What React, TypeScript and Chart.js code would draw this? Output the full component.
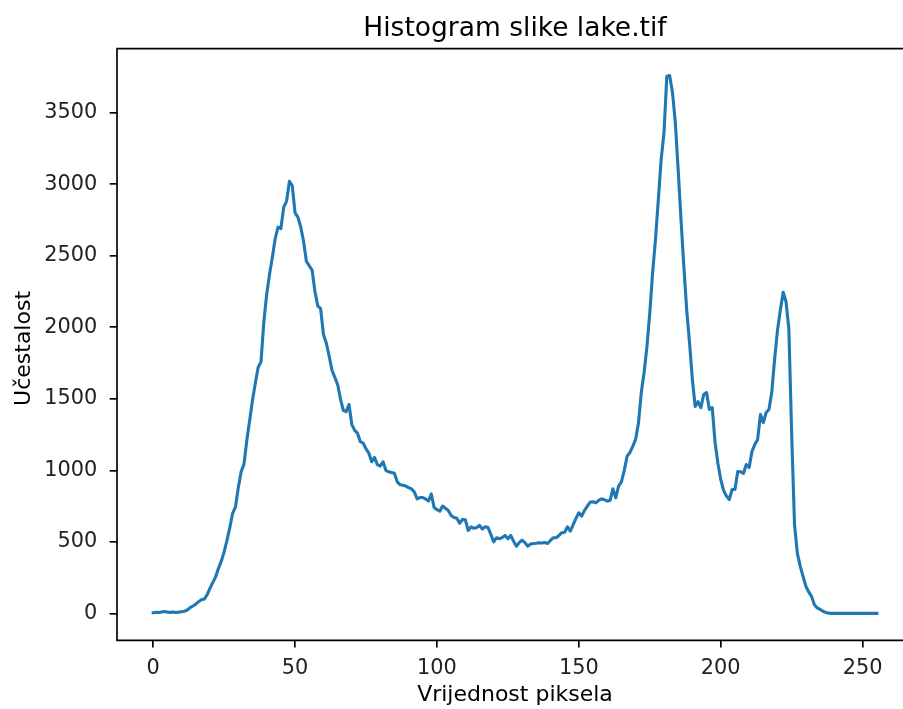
import React, { useEffect, useRef } from "react";
import { Chart, registerables } from "chart.js";

Chart.register(...registerables);

// Histogram counts for pixel values 0..255, split in four blocks
const counts0to63 = [
  5, 8, 6, 10, 14, 9, 7, 10, 6, 9, 12, 15, 24, 40, 52, 65,
  82, 95, 100, 130, 175, 215, 255, 315, 365, 430, 510, 600, 700, 745, 880, 990,
  1045, 1210, 1350, 1490, 1610, 1720, 1760, 2040, 2230, 2370, 2490, 2620, 2700, 2690, 2840, 2880,
  3020, 2990, 2800, 2770, 2700, 2600, 2460, 2430, 2400, 2250, 2150, 2130, 1950, 1890, 1800, 1700,
];
const counts64to127 = [
  1650, 1600, 1500, 1420, 1410, 1460, 1320, 1280, 1260, 1200, 1190, 1150, 1120, 1060, 1090, 1040,
  1030, 1060, 1000, 990, 985, 980, 920, 900, 895, 890, 880, 870, 850, 800, 810, 810,
  800, 785, 835, 740, 725, 715, 750, 735, 720, 685, 670, 665, 630, 657, 655, 580,
  605, 595, 600, 615, 590, 605, 600, 552, 500, 529, 522, 530, 545, 522, 545, 505,
];
const counts128to191 = [
  470, 495, 512, 495, 470, 485, 489, 490, 494, 492, 495, 489, 510, 529, 529, 545,
  564, 568, 605, 575, 620, 665, 703, 680, 720, 750, 778, 780, 773, 790, 801, 795,
  785, 790, 870, 808, 890, 920, 1000, 1099, 1125, 1167, 1216, 1330, 1544, 1684, 1865, 2103,
  2382, 2613, 2890, 3172, 3360, 3755, 3760, 3640, 3430, 3100, 2752, 2424, 2124, 1893, 1635, 1446,
];
const counts192to255 = [
  1480, 1439, 1530, 1544, 1425, 1439, 1195, 1050, 936, 860, 820, 796, 866, 866, 992, 990,
  978, 1041, 1020, 1132, 1180, 1216, 1390, 1334, 1404, 1425, 1550, 1780, 1980, 2120, 2245, 2180,
  1990, 1250, 620, 420, 330, 260, 190, 150, 119, 60, 38, 28, 15, 7, 2, 0,
  0, 0, 0, 0, 0, 0, 0, 0, 0, 0, 0, 0, 0, 0, 0, 0,
];

const xTickValues = [0, 50, 100, 150, 200, 250];
const yTickValues = [0, 500, 1000, 1500, 2000, 2500, 3000, 3500];

const chartTitle = "Histogram slike lake.tif";
const xTitle = "Vrijednost piksela";
const yTitle = "Učestalost";

const counts = [...counts0to63, ...counts64to127, ...counts128to191, ...counts192to255];
const points = counts.map((c, i) => ({ x: i, y: c }));

const FONT = "'DejaVu Sans', 'Liberation Sans', sans-serif";
const SPINE = 1.67;

const spinesPlugin = {
  id: "spines",
  afterDatasetsDraw(chart: any) {
    const { ctx, chartArea } = chart;
    const { left, right, top, bottom } = chartArea;
    ctx.save();
    ctx.strokeStyle = "#000";
    ctx.lineWidth = SPINE;
    ctx.lineCap = "square";
    ctx.beginPath();
    ctx.moveTo(left, bottom);
    ctx.lineTo(left, top);
    ctx.lineTo(right, top);
    ctx.moveTo(left, bottom);
    ctx.lineTo(right, bottom);
    ctx.stroke();
    ctx.restore();
  },
};

// y-axis label drawn centred like matplotlib's (slightly below the axes centre)
const yLabelPlugin = {
  id: "yLabel",
  afterDraw(chart: any) {
    const { ctx, chartArea } = chart;
    ctx.save();
    ctx.fillStyle = "#000";
    ctx.font = `22px ${FONT}`;
    ctx.textAlign = "center";
    ctx.textBaseline = "middle";
    ctx.translate(24, (chartArea.top + chartArea.bottom) / 2 + 4);
    ctx.rotate(-Math.PI / 2);
    ctx.fillText(yTitle, 0, 0);
    ctx.restore();
  },
};

export default function App() {
  const canvasRef = useRef<HTMLCanvasElement | null>(null);

  useEffect(() => {
    if (!canvasRef.current) return;
    const xMin = 0;
    const xMax = counts.length - 1;
    const xPad = 0.05 * (xMax - xMin);
    const yMaxData = Math.max(...counts);
    const yMinData = Math.min(...counts);
    const yPad = 0.05 * (yMaxData - yMinData);

    const chart = new Chart(canvasRef.current, {
      type: "line",
      data: {
        datasets: [
          {
            data: points,
            borderColor: "#1f77b4",
            borderWidth: 3.1,
            pointRadius: 0,
            tension: 0,
            fill: false,
            borderJoinStyle: "round",
            borderCapStyle: "square",
          },
        ],
      },
      options: {
        responsive: false,
        animation: false,
        events: [],
        layout: { padding: { left: 0, right: 47, top: 0, bottom: 0 } },
        plugins: {
          legend: { display: false },
          tooltip: { enabled: false },
          title: {
            display: true,
            text: chartTitle,
            fullSize: false,
            color: "#000",
            font: { family: FONT, size: 26.5, weight: "normal", lineHeight: 1.2 },
            padding: { top: 13, bottom: 3.8 },
          },
        },
        scales: {
          x: {
            type: "linear",
            min: xMin - xPad,
            max: xMax + xPad,
            afterBuildTicks: (scale: any) => {
              scale.ticks = xTickValues.map((v) => ({ value: v }));
            },
            afterFit: (scale: any) => {
              scale.height = 68.7;
            },
            border: { display: false },
            grid: {
              display: true,
              drawOnChartArea: false,
              drawTicks: true,
              tickLength: 7.3,
              color: "#000",
              lineWidth: SPINE,
            },
            ticks: {
              color: "#222",
              font: { family: FONT, size: 20.83, lineHeight: 1.2 },
              padding: 8,
              maxRotation: 0,
              autoSkip: false,
              callback: (v: any) => String(v),
            },
            title: {
              display: true,
              text: xTitle,
              color: "#000",
              font: { family: FONT, size: 22, lineHeight: 1.2 },
              padding: { top: 0, bottom: 0.5 },
            },
          },
          y: {
            type: "linear",
            min: yMinData - yPad,
            max: yMaxData + yPad,
            afterBuildTicks: (scale: any) => {
              scale.ticks = yTickValues.map((v) => ({ value: v }));
            },
            afterFit: (scale: any) => {
              scale.width = 117;
            },
            border: { display: false },
            grid: {
              display: true,
              drawOnChartArea: false,
              drawTicks: true,
              tickLength: 7.3,
              color: "#000",
              lineWidth: SPINE,
            },
            ticks: {
              color: "#222",
              font: { family: FONT, size: 20.83, lineHeight: 1.2 },
              padding: 12.5,
              autoSkip: false,
              callback: (v: any) => String(v),
            },
            title: { display: false },
          },
        },
      },
      plugins: [spinesPlugin, yLabelPlugin],
    } as any);

    return () => {
      chart.destroy();
    };
  }, []);

  return (
    <div
      style={{
        position: "fixed",
        left: 0,
        top: 0,
        width: 903,
        height: 709,
        overflow: "hidden",
        background: "#fff",
      }}
    >
      <canvas ref={canvasRef} width={960} height={709} style={{ width: 960, height: 709, display: "block" }} />
    </div>
  );
}
